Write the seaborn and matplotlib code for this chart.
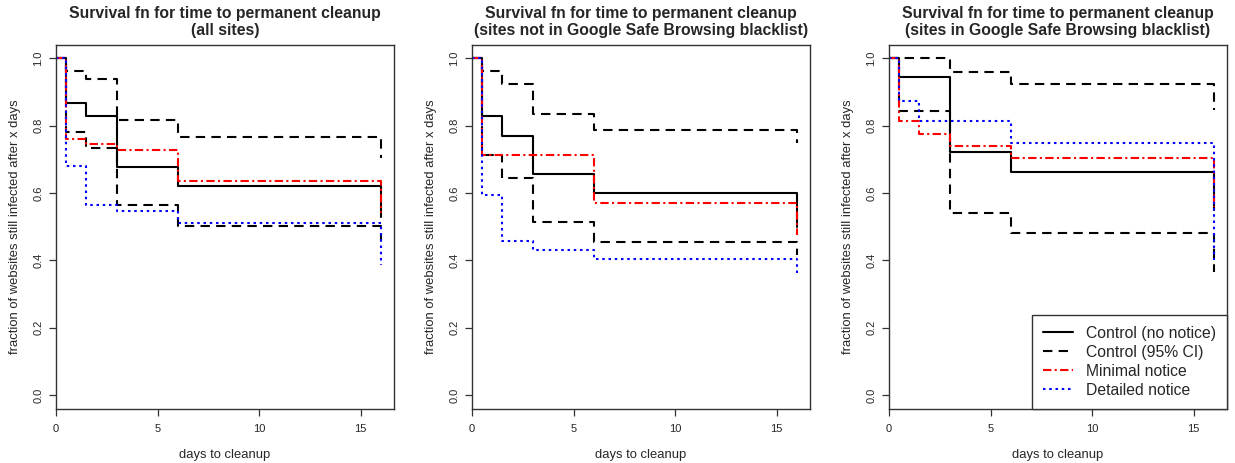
import matplotlib
matplotlib.use("Agg")
import matplotlib.pyplot as plt
import pandas as pd
import seaborn as sns

# days at which the Kaplan-Meier curves step down (last = end of study)
times = [0, 0.5, 1.5, 3, 6, 16]

titles = [
    "Survival fn for time to permanent cleanup\n(all sites)",
    "Survival fn for time to permanent cleanup\n(sites not in Google Safe Browsing blacklist)",
    "Survival fn for time to permanent cleanup\n(sites in Google Safe Browsing blacklist)",
]

# panel 1: all sites
all_control = [1.0, 0.868, 0.830, 0.678, 0.622, 0.530]
all_upper = [1.0, 0.964, 0.938, 0.817, 0.767, 0.703]
all_lower = [1.0, 0.782, 0.735, 0.564, 0.503, 0.460]
all_minimal = [1.0, 0.762, 0.746, 0.728, 0.636, 0.541]
all_detailed = [1.0, 0.680, 0.565, 0.547, 0.510, 0.386]

# panel 2: not blacklisted
nbl_control = [1.0, 0.828, 0.770, 0.656, 0.599, 0.500]
nbl_upper = [1.0, 0.964, 0.925, 0.836, 0.787, 0.748]
nbl_lower = [1.0, 0.713, 0.645, 0.515, 0.456, 0.416]
nbl_minimal = [1.0, 0.713, 0.713, 0.713, 0.571, 0.476]
nbl_detailed = [1.0, 0.595, 0.458, 0.431, 0.404, 0.361]

# panel 3: blacklisted
bl_control = [1.0, 0.944, 0.944, 0.721, 0.664, 0.550]
bl_upper = [1.0, 1.0, 1.0, 0.960, 0.925, 0.846]
bl_lower = [1.0, 0.845, 0.845, 0.541, 0.481, 0.367]
bl_minimal = [1.0, 0.815, 0.776, 0.740, 0.704, 0.560]
bl_detailed = [1.0, 0.875, 0.813, 0.813, 0.750, 0.402]

panels = [
    (all_control, all_upper, all_lower, all_minimal, all_detailed),
    (nbl_control, nbl_upper, nbl_lower, nbl_minimal, nbl_detailed),
    (bl_control, bl_upper, bl_lower, bl_minimal, bl_detailed),
]

x_ticks = [0, 5, 10, 15]
y_ticks = [0.0, 0.2, 0.4, 0.6, 0.8, 1.0]

sns.set_style("ticks")
plt.rcParams["font.family"] = ["Liberation Sans", "DejaVu Sans"]

LW = 1.5
STYLES = {
    "control": dict(color="black", linestyle="-"),
    "ci": dict(color="black", linestyle=(0, (4.5, 3.0))),
    "minimal": dict(color="red", linestyle=(0, (4.0, 1.6, 1.0, 1.6))),
    "detailed": dict(color="blue", linestyle=(0, (1.2, 1.8))),
}

fig = plt.figure(figsize=(12.35, 4.63), dpi=100)
lefts = [56 / 1235, 472 / 1235, 889 / 1235]
width = 338 / 1235
bottom = 1 - 408.5 / 463
height = 363.5 / 463

for i, (ctrl, up, lo, mini, det) in enumerate(panels):
    ax = fig.add_axes([lefts[i], bottom, width, height])
    show = i == 2
    series = [
        (ctrl, "control", "Control (no notice)"),
        (up, "ci", "Control (95% CI)"),
        (lo, "ci", None),
        (mini, "minimal", "Minimal notice"),
        (det, "detailed", "Detailed notice"),
    ]
    for vals, kind, lab in series:
        df = pd.DataFrame({"t": times, "s": vals})
        sns.lineplot(
            data=df, x="t", y="s", ax=ax,
            estimator=None, sort=False, drawstyle="steps-post",
            linewidth=LW, label=(lab if (show and lab) else "_nolegend_"),
            **STYLES[kind],
        )

    ax.set_xlim(0, 16.64)
    ax.set_ylim(-0.04, 1.04)
    ax.set_xticks(x_ticks)
    ax.set_xticklabels([str(t) for t in x_ticks], fontsize=8)
    ax.set_yticks(y_ticks)
    ax.set_yticklabels([f"{t:.1f}" for t in y_ticks], fontsize=8,
                       rotation=90, va="center")
    ax.tick_params(length=5, width=0.9, color="#333333", pad=6)
    ax.tick_params(axis="y", pad=4)
    for sp in ax.spines.values():
        sp.set_visible(True)
        sp.set_color("#333333")
        sp.set_linewidth(1.0)
    ax.set_xlabel("days to cleanup", fontsize=9.4, labelpad=11)
    ax.set_ylabel("fraction of websites still infected after x days",
                  fontsize=9.4, labelpad=9)
    ax.set_title(titles[i], fontsize=11.3, fontweight="bold", pad=7,
                 linespacing=1.2)

    if show:
        leg = ax.legend(loc="lower right", borderaxespad=0, fontsize=11.3,
                        handlelength=1.9, handletextpad=0.85,
                        borderpad=0.7, labelspacing=0.25, fancybox=False,
                        framealpha=1)
        leg.get_frame().set_edgecolor("#333333")
        leg.get_frame().set_linewidth(1.0)
    else:
        if ax.get_legend() is not None:
            ax.get_legend().remove()

fig.savefig("out.png", dpi=100)
